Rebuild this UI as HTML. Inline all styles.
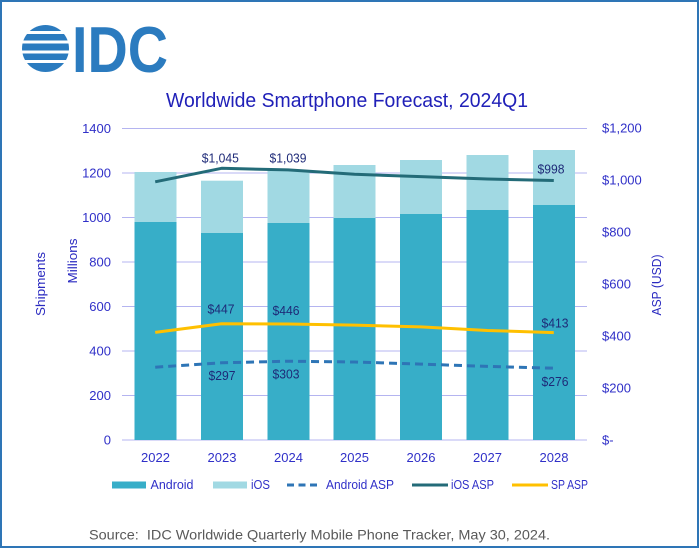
<!DOCTYPE html>
<html>
<head>
<meta charset="utf-8">
<style>
  html, body { margin: 0; padding: 0; background: #ffffff; }
  svg { display: block; }
  text { font-family: "Liberation Sans", "DejaVu Sans", sans-serif; }
</style>
</head>
<body>
<svg width="699" height="548" viewBox="0 0 699 548" xmlns="http://www.w3.org/2000/svg">
  <rect x="0" y="0" width="699" height="548" fill="#ffffff"/>
  <rect x="1" y="1" width="697" height="546" fill="none" stroke="#2e75b6" stroke-width="2"/>

  <!-- IDC logo -->
  <defs>
    <clipPath id="globe"><circle cx="45.5" cy="48.5" r="23.5"/></clipPath>
  </defs>
  <g clip-path="url(#globe)" fill="#2b7bbf">
    <rect x="20" y="25" width="52" height="6"/>
    <rect x="20" y="34" width="52" height="6.5"/>
    <rect x="20" y="43.5" width="52" height="7"/>
    <rect x="20" y="53.5" width="52" height="6.5"/>
    <rect x="20" y="63" width="52" height="9"/>
  </g>
  <text x="72" y="72" font-size="65" font-weight="bold" fill="#2b7bbf" textLength="96" lengthAdjust="spacingAndGlyphs">IDC</text>

  <!-- Title -->
  <text x="166" y="107" font-size="20.5" fill="#2020b8" textLength="362" lengthAdjust="spacingAndGlyphs">Worldwide Smartphone Forecast, 2024Q1</text>

  <!-- Gridlines -->
  <g stroke="#b4b4f0" stroke-width="1">
    <line x1="122" y1="128.5" x2="587" y2="128.5"/>
    <line x1="122" y1="173" x2="587" y2="173"/>
    <line x1="122" y1="217.5" x2="587" y2="217.5"/>
    <line x1="122" y1="262" x2="587" y2="262"/>
    <line x1="122" y1="306.5" x2="587" y2="306.5"/>
    <line x1="122" y1="351" x2="587" y2="351"/>
    <line x1="122" y1="395.5" x2="587" y2="395.5"/>
    <line x1="122" y1="440" x2="587" y2="440"/>
  </g>

  <!-- Bars: iOS (total) then Android -->
  <g fill="#a1d9e3">
    <rect x="134.5" y="172" width="42" height="268"/>
    <rect x="201" y="180.7" width="42" height="259.3"/>
    <rect x="267.5" y="170.3" width="42" height="269.7"/>
    <rect x="333.5" y="165" width="42" height="275"/>
    <rect x="400" y="160" width="42" height="280"/>
    <rect x="466.5" y="155" width="42" height="285"/>
    <rect x="533" y="150" width="42" height="290"/>
  </g>
  <g fill="#37aec8">
    <rect x="134.5" y="222" width="42" height="218"/>
    <rect x="201" y="233" width="42" height="207"/>
    <rect x="267.5" y="223" width="42" height="217"/>
    <rect x="333.5" y="218" width="42" height="222"/>
    <rect x="400" y="214" width="42" height="226"/>
    <rect x="466.5" y="210" width="42" height="230"/>
    <rect x="533" y="205" width="42" height="235"/>
  </g>

  <!-- Lines -->
  <polyline fill="none" stroke="#236b78" stroke-width="3" stroke-linejoin="round"
    points="155.2,181.8 221.6,168.3 288.1,169.9 354.5,174.3 420.9,176.6 487.4,179 553.8,180.5"/>
  <polyline fill="none" stroke="#ffc000" stroke-width="3" stroke-linejoin="round"
    points="155.2,332.4 221.6,323.8 288.1,324 354.5,325.1 420.9,326.9 487.4,330.5 553.8,332.6"/>
  <polyline fill="none" stroke="#2e75b6" stroke-width="3" stroke-dasharray="8,5" stroke-linejoin="round"
    points="155.2,367.2 221.6,362.8 288.1,361.2 354.5,362 420.9,364.1 487.4,366.4 553.8,368.2"/>

  <!-- Data labels -->
  <g font-size="13" fill="#1e2a78" text-anchor="middle">
    <text x="220.3" y="162.5" textLength="37" lengthAdjust="spacingAndGlyphs">$1,045</text>
    <text x="288" y="162.5" textLength="37" lengthAdjust="spacingAndGlyphs">$1,039</text>
    <text x="551" y="173.5" textLength="27" lengthAdjust="spacingAndGlyphs">$998</text>
    <text x="221" y="313.5" textLength="27" lengthAdjust="spacingAndGlyphs">$447</text>
    <text x="286" y="315" textLength="27" lengthAdjust="spacingAndGlyphs">$446</text>
    <text x="555" y="327.5" textLength="27" lengthAdjust="spacingAndGlyphs">$413</text>
    <text x="222" y="380" textLength="27" lengthAdjust="spacingAndGlyphs">$297</text>
    <text x="286" y="378.5" textLength="27" lengthAdjust="spacingAndGlyphs">$303</text>
    <text x="555" y="386" textLength="27" lengthAdjust="spacingAndGlyphs">$276</text>
  </g>

  <!-- Left tick labels -->
  <g font-size="13" fill="#3030c8" text-anchor="end">
    <text x="111" y="133">1400</text>
    <text x="111" y="177.5">1200</text>
    <text x="111" y="222">1000</text>
    <text x="111" y="266.5">800</text>
    <text x="111" y="311">600</text>
    <text x="111" y="355.5">400</text>
    <text x="111" y="400">200</text>
    <text x="111" y="444.5">0</text>
  </g>

  <!-- Right tick labels -->
  <g font-size="13" fill="#3030c8" text-anchor="start">
    <text x="602" y="132.5">$1,200</text>
    <text x="602" y="184.5">$1,000</text>
    <text x="602" y="236.5">$800</text>
    <text x="602" y="288.5">$600</text>
    <text x="602" y="340.5">$400</text>
    <text x="602" y="392.5">$200</text>
    <text x="602" y="444.5">$-</text>
  </g>

  <!-- Year labels -->
  <g font-size="13" fill="#3030c8" text-anchor="middle">
    <text x="155.5" y="462">2022</text>
    <text x="222" y="462">2023</text>
    <text x="288.5" y="462">2024</text>
    <text x="354.5" y="462">2025</text>
    <text x="421" y="462">2026</text>
    <text x="487.5" y="462">2027</text>
    <text x="554" y="462">2028</text>
  </g>

  <!-- Axis titles -->
  <text transform="translate(40.5,284) rotate(-90)" y="4.5" font-size="13" fill="#2a2ac0" text-anchor="middle" textLength="64" lengthAdjust="spacingAndGlyphs">Shipments</text>
  <text transform="translate(72.5,261) rotate(-90)" y="4.5" font-size="13" fill="#2a2ac0" text-anchor="middle" textLength="45" lengthAdjust="spacingAndGlyphs">Millions</text>
  <text transform="translate(656.5,285) rotate(-90)" y="4.5" font-size="13" fill="#2a2ac0" text-anchor="middle" textLength="61" lengthAdjust="spacingAndGlyphs">ASP (USD)</text>

  <!-- Legend -->
  <rect x="112" y="481.5" width="34" height="7" fill="#37aec8"/>
  <text x="150.5" y="489" font-size="13" fill="#3030c8" textLength="43" lengthAdjust="spacingAndGlyphs">Android</text>
  <rect x="213" y="481.5" width="34" height="7" fill="#a1d9e3"/>
  <text x="251" y="489" font-size="13" fill="#3030c8" textLength="19" lengthAdjust="spacingAndGlyphs">iOS</text>
  <line x1="287" y1="485" x2="320" y2="485" stroke="#2e75b6" stroke-width="3" stroke-dasharray="7,4.5"/>
  <text x="326" y="489" font-size="13" fill="#3030c8" textLength="68" lengthAdjust="spacingAndGlyphs">Android ASP</text>
  <line x1="412" y1="485" x2="448" y2="485" stroke="#236b78" stroke-width="3"/>
  <text x="451" y="489" font-size="13" fill="#3030c8" textLength="43" lengthAdjust="spacingAndGlyphs">iOS ASP</text>
  <line x1="512" y1="485" x2="548" y2="485" stroke="#ffc000" stroke-width="3"/>
  <text x="551" y="489" font-size="13" fill="#3030c8" textLength="37" lengthAdjust="spacingAndGlyphs">SP ASP</text>

  <!-- Source -->
  <text x="89" y="539.5" font-size="14" fill="#595959" textLength="461" lengthAdjust="spacingAndGlyphs" xml:space="preserve">Source:  IDC Worldwide Quarterly Mobile Phone Tracker, May 30, 2024.</text>
</svg>
</body>
</html>
